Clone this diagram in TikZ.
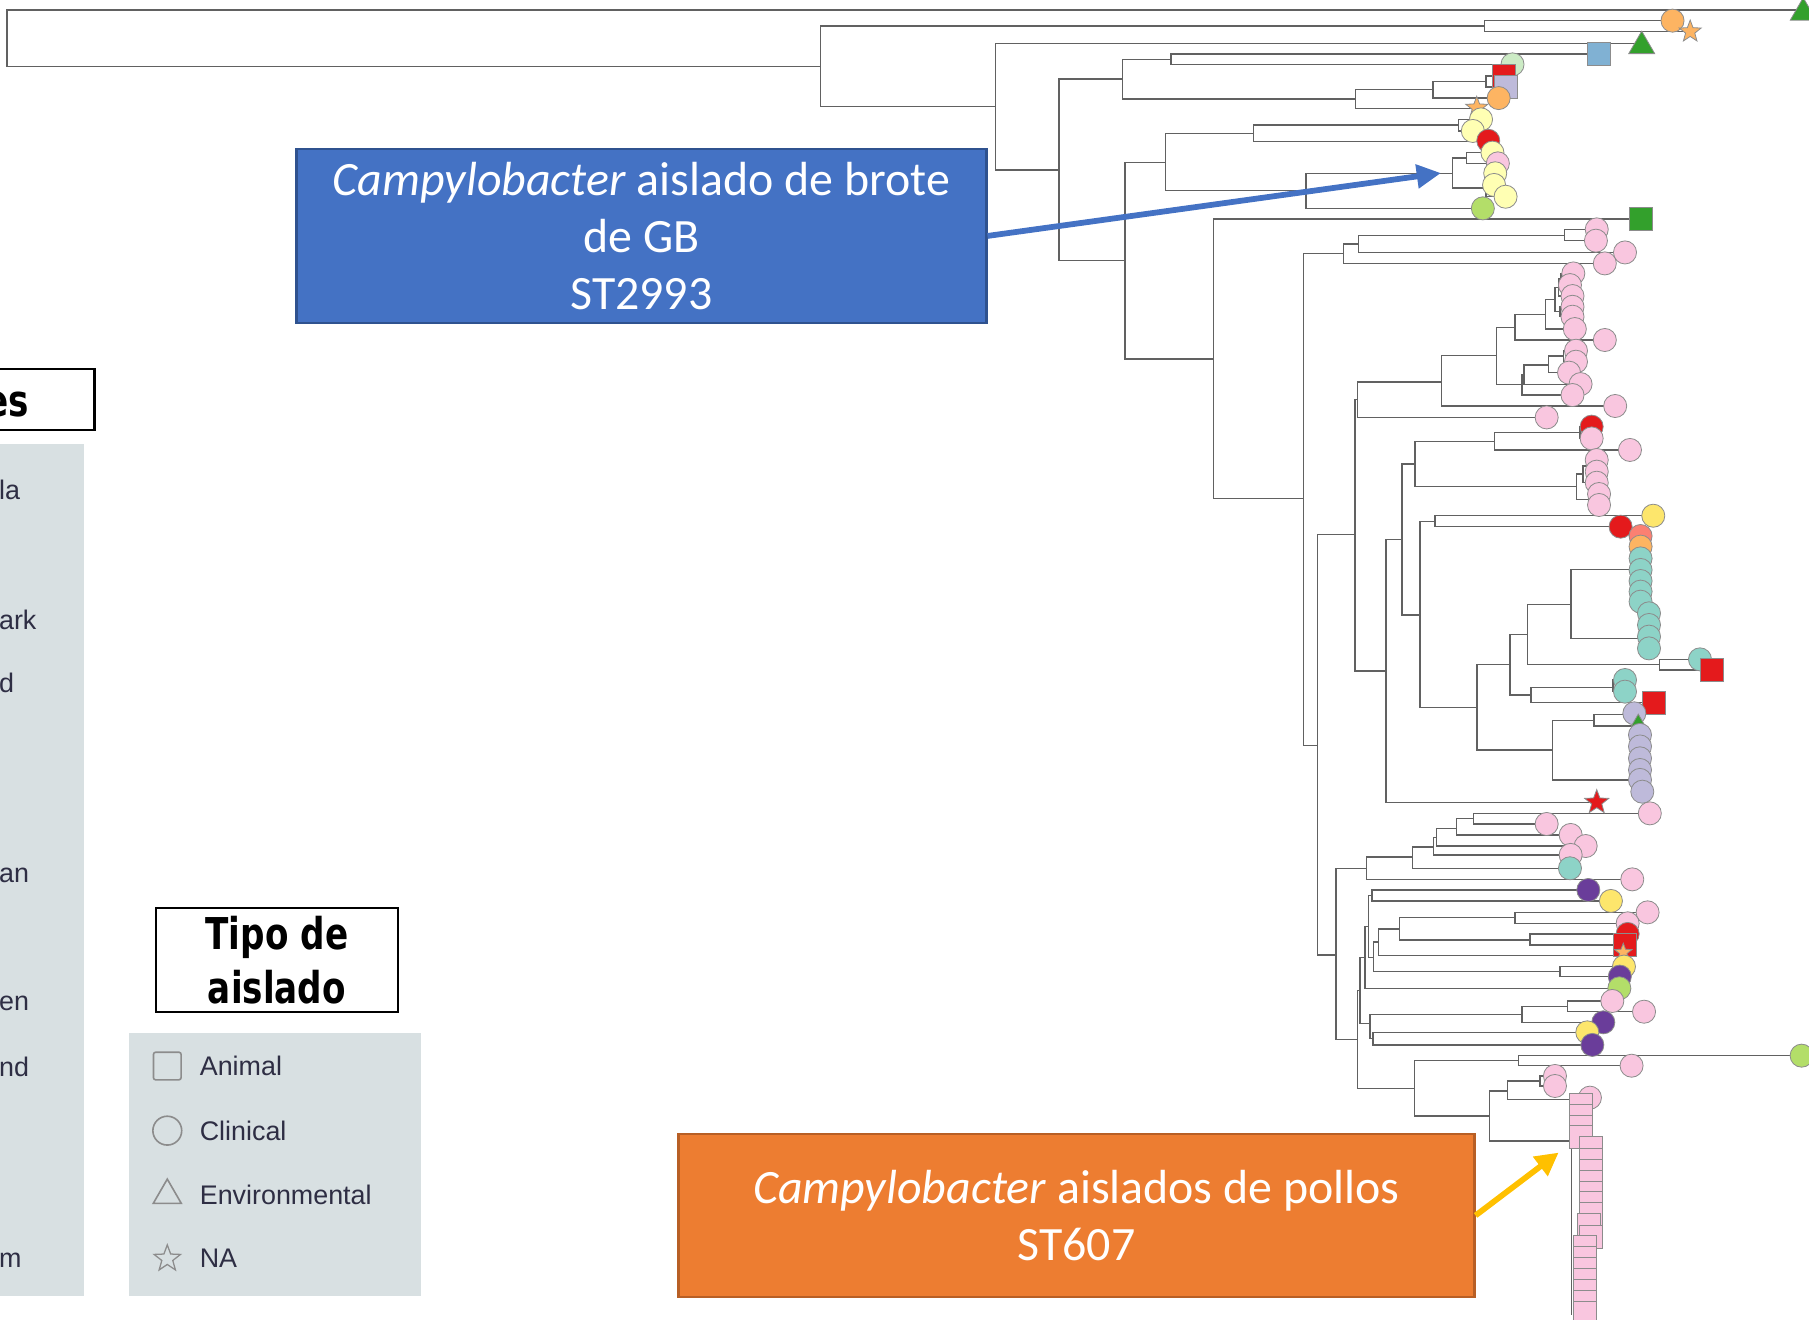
\documentclass[tikz,border=0pt]{standalone}
\usepackage{fontspec}
\setmainfont{Carlito}
\newfontfamily\legfont{Liberation Sans}
\newfontfamily\titfont{DejaVu Sans}[FakeStretch=0.78]
\usetikzlibrary{arrows.meta}
\definecolor{pinkc}{HTML}{F9C6DF}
\definecolor{lyel}{HTML}{FFFFB3}
\definecolor{yel}{HTML}{FDE66C}
\definecolor{redc}{HTML}{E41A1C}
\definecolor{oran}{HTML}{FDB462}
\definecolor{salm}{HTML}{FB8072}
\definecolor{teal}{HTML}{8DD3C7}
\definecolor{lav}{HTML}{BEBADA}
\definecolor{purp}{HTML}{6A3D9A}
\definecolor{lgrn}{HTML}{CCEBC5}
\definecolor{ygrn}{HTML}{B3DE69}
\definecolor{grn}{HTML}{33A02C}
\definecolor{blu}{HTML}{80B1D3}
\definecolor{boxblue}{HTML}{4472C4}
\definecolor{boxblueb}{HTML}{2F528F}
\definecolor{boxor}{HTML}{ED7D31}
\definecolor{boxorb}{HTML}{B85F25}
\definecolor{arrY}{HTML}{FFC000}
\definecolor{legbg}{RGB}{216,224,226}
\definecolor{legtx}{HTML}{2E2E44}
\definecolor{legsy}{HTML}{8C8C8C}
\tikzset{
  tl/.style={draw=black!62,line width=1.3pt},
  mk/.style={draw=black!45,line width=0.7pt},
  callout/.style={text=white,align=center,inner sep=0pt,font=\fontsize{41.5}{49.5}\selectfont},
  legtext/.style={anchor=west,inner sep=0pt,text=legtx,font=\legfont\fontsize{23.3}{27}\selectfont},
  legsym/.style={draw=legsy,line width=1.4pt},
}
\newcommand\clade[5]{\draw[tl] (#3,#2) -- (#1,#2) -- (#1,#4) -- (#5,#4);}
\newcommand\mci[3]{\filldraw[mk,fill=#3] (#1,#2) circle[radius=10pt];}
\newcommand\msq[3]{\filldraw[mk,fill=#3] (#1-10,#2-10) rectangle (#1+10,#2+10);}
\newcommand\mtri[4]{\filldraw[mk,fill=#3] (#1,#2) +(270:#4) -- +(30:#4) -- +(150:#4) -- cycle;}
\newcommand\mstar[4]{\filldraw[mk,fill=#3] (#1,#2) +(270:#4) -- +(306:0.42*#4) -- +(342:#4) -- +(18:0.42*#4) -- +(54:#4) -- +(90:0.42*#4) -- +(126:#4) -- +(162:0.42*#4) -- +(198:#4) -- +(234:0.42*#4) -- cycle;}
\begin{document}
\begin{tikzpicture}[x=1pt,y=-1pt]
\useasboundingbox (0,0) rectangle (1568,1144);
\clip (0,0) rectangle (1568,1144);
% ---------------- tree ----------------
\clade{6}{8.7}{1560}{57.6}{711}
\clade{711}{22.7}{1286.5}{92.4}{863}
\clade{1286.5}{17.9}{1449.7}{27.4}{1465}
\clade{863}{37.6}{1423}{147.3}{918}
\clade{918}{68.6}{973}{225.8}{975}
\clade{973}{51.6}{1015}{85.7}{1175}
\clade{1015}{47}{1386}{56}{1311}
\clade{1175}{77.4}{1242}{93.9}{1280}
\clade{1242}{70.5}{1288}{85}{1299}
\clade{1288}{65.9}{1303.5}{75.3}{1305.5}
\clade{975}{140.7}{1010}{311}{1052}
\clade{1010}{115.5}{1086.6}{165.3}{1132}
\clade{1086.6}{108.5}{1264}{122.5}{1290}
\clade{1264}{103.5}{1283.7}{113.5}{1276.6}
\clade{1132}{150.5}{1259}{180.6}{1285.3}
\clade{1259}{137}{1271}{162.8}{1288}
\clade{1271}{132.3}{1293.6}{141.6}{1298.3}
\clade{1288}{155.2}{1290}{170.5}{1305}
\clade{1290}{150.2}{1296}{160.3}{1295}
\clade{1052}{189.8}{1422}{432.1}{1129.7}
\clade{1129.7}{219.7}{1164.3}{646}{1142}
\clade{1164.3}{211.3}{1177.4}{228.3}{1391}
\clade{1177.4}{204}{1356}{218.8}{1408.5}
\clade{1356}{198.8}{1384}{208.6}{1383.3}
\clade{1142}{463.2}{1174.5}{827.7}{1158}
\clade{1174.5}{346.4}{1176.5}{581.6}{1201.3}
\clade{1176.5}{330.9}{1249.6}{361.8}{1340.6}
\clade{1249.6}{308.3}{1297.3}{351.9}{1400}
\clade{1297.3}{283.8}{1313.2}{333.2}{1319}
\clade{1313.2}{272.5}{1339.7}{294.7}{1391}
\clade{1339.7}{259.5}{1347.8}{285.2}{1365}
\clade{1347.8}{249.3}{1350.7}{270.2}{1352}
\clade{1350.7}{242}{1353}{256.6}{1363}
\clade{1353}{237}{1363.7}{247.1}{1360.8}
\clade{1352}{265.9}{1363}{274.5}{1363}
\clade{1319}{325}{1321}{342.4}{1363}
\clade{1321}{316.4}{1342}{333.2}{1370}
\clade{1342}{308.75}{1355}{323}{1360}
\clade{1355}{304}{1366}{313.5}{1366}
\clade{1201.3}{467.5}{1215}{695.4}{1384}
\clade{1215}{402.3}{1226.5}{533}{1230.8}
\clade{1226.5}{382.8}{1295.2}{421.8}{1366.6}
\clade{1295.2}{375}{1369.5}{390}{1412.8}
\clade{1369.5}{369.8}{1379.6}{380}{1379.6}
\clade{1366.6}{411}{1372}{433}{1377}
\clade{1372}{403.7}{1376}{418.4}{1384}
\clade{1376}{398.7}{1384}{408.8}{1384}
\clade{1377}{428.2}{1386}{437.7}{1386}
\clade{1230.8}{451.8}{1243.8}{613.4}{1280}
\clade{1243.8}{447}{1433}{456.5}{1404.7}
\clade{1280}{575.8}{1308.8}{650}{1345.8}
\clade{1308.8}{549.8}{1324.1}{602.5}{1327}
\clade{1324.1}{523.8}{1361.7}{575.8}{1438.6}
\clade{1361.7}{493.5}{1422}{553.3}{1429.3}
\clade{1438.6}{571.5}{1473.5}{580.7}{1484}
\clade{1327}{596}{1398}{609}{1433.6}
\clade{1398}{589.4}{1408.5}{599.5}{1408.5}
\clade{1345.8}{624.5}{1381.6}{676}{1421.5}
\clade{1381.6}{619.5}{1416.6}{629.3}{1420}
\clade{1158}{752.6}{1184.6}{901}{1176.5}
\clade{1184.6}{743}{1224.4}{762.2}{1414.8}
\clade{1224.4}{734}{1242.4}{752.6}{1360.8}
\clade{1242.4}{726}{1245.3}{741}{1361.4}
\clade{1245.3}{718}{1262.6}{733.3}{1374.4}
\clade{1262.6}{709.6}{1277}{723.7}{1361.4}
\clade{1277}{705}{1430}{714.2}{1340.6}
\clade{1176.5}{858.5}{1179}{943.3}{1225.9}
\clade{1179}{830}{1183}{887}{1187.5}
\clade{1183}{803}{1186}{856.6}{1403.6}
\clade{1186}{776}{1189}{830}{1190.4}
\clade{1189}{771.4}{1376.7}{780.9}{1396.3}
\clade{1190.4}{816.7}{1194.7}{842.2}{1352}
\clade{1194.7}{805.2}{1213}{828.3}{1400}
\clade{1213}{795.4}{1313.1}{814.7}{1326.1}
\clade{1313.1}{790.8}{1428.1}{800.3}{1410.8}
\clade{1326.1}{809.5}{1410.8}{819}{1408.5}
\clade{1352}{837.8}{1407.6}{846.5}{1404}
\clade{1187.5}{879.3}{1319}{900.2}{1190}
\clade{1319}{872.2}{1358.8}{886.1}{1389.7}
\clade{1358.8}{867.6}{1397.5}{876.9}{1425}
\clade{1190}{894.8}{1375.8}{905.7}{1380.2}
\clade{1225.9}{919.3}{1316}{967.3}{1290.9}
\clade{1316}{915}{1555}{923.7}{1414.2}
\clade{1290.9}{945.5}{1306.5}{989}{1362}
\clade{1306.5}{937}{1335}{952.9}{1378.1}
\clade{1335}{932.6}{1347.8}{941.3}{1347.8}
\draw[tl] (1362,958) -- (1362,1140);
% ---------------- tip markers ----------------
\mtri{1563}{11}{grn}{13}
\mci{1449.7}{17.9}{oran}
\mstar{1465}{27.4}{oran}{10}
\mtri{1423}{40}{grn}{13}
\msq{1386}{47}{blu}
\mci{1311}{55.8}{lgrn}
\msq{1303.5}{65.7}{redc}
\msq{1305.5}{75.5}{lav}
\mci{1299}{85}{oran}
\mstar{1280}{93.5}{oran}{10}
\mci{1283.7}{103.5}{lyel}
\mci{1276.6}{113.5}{lyel}
\mci{1290}{122}{redc}
\mci{1293.6}{132.3}{lyel}
\mci{1298.3}{141.6}{pinkc}
\mci{1296}{150.2}{lyel}
\mci{1295}{160.3}{lyel}
\mci{1305}{170.5}{lyel}
\mci{1285.3}{180.6}{ygrn}
\msq{1422}{189.9}{grn}
\mci{1384}{198.8}{pinkc}
\mci{1383.3}{208.6}{pinkc}
\mci{1408.5}{218.8}{pinkc}
\mci{1391}{228.3}{pinkc}
\foreach \x/\y in {1363.7/237,1360.8/247.1,1363/256.6,1363/265.9,1363/274.5,1365/285.2,1391/294.7,1366/304,1366/313.5,1360/323,1370/332.9,1363/342.4,1400/351.9,1340.6/361.8}{\mci{\x}{\y}{pinkc}}
\mci{1379.6}{369.8}{redc}
\foreach \x/\y in {1379.6/380,1412.8/390,1384/398.7,1384/408.8,1384/418.4,1386/428.2,1386/437.7}{\mci{\x}{\y}{pinkc}}
\mci{1433}{447}{yel}
\mci{1404.7}{456.5}{redc}
\mci{1422}{464.6}{salm}
\mci{1422}{473.8}{oran}
\foreach \x/\y in {1422/484,1422/494,1422/503.6,1422/512.8,1422/521.5,1429.3/531.6,1429.3/541.7,1429.3/551.8,1429.3/562}{\mci{\x}{\y}{teal}}
\mci{1473.5}{571.5}{teal}
\msq{1484}{580.7}{redc}
\mci{1408.5}{589.4}{teal}
\mci{1408.5}{599.5}{teal}
\msq{1433.6}{609}{redc}
\mci{1416.6}{618.3}{lav}
\mtri{1420}{626}{grn}{7}
\foreach \y in {637,647,657.3,667.4,676}{\mci{1421.5}{\y}{lav}}
\mci{1423.5}{686.2}{lav}
\mstar{1384}{695.4}{redc}{11}
\mci{1430}{705}{pinkc}
\mci{1340.6}{714.2}{pinkc}
\mci{1361.4}{723.7}{pinkc}
\mci{1374.4}{733.3}{pinkc}
\mci{1361.4}{741}{pinkc}
\mci{1360.8}{752.6}{teal}
\mci{1414.8}{762.2}{pinkc}
\mci{1376.7}{771.4}{purp}
\mci{1396.3}{780.9}{yel}
\mci{1428.1}{790.8}{pinkc}
\mci{1410.8}{800.3}{pinkc}
\mci{1410.8}{809.5}{redc}
\msq{1408.5}{819}{redc}
\mstar{1407}{825.5}{oran}{8}
\mci{1407.6}{837.8}{yel}
\mci{1404}{846.5}{purp}
\mci{1403.6}{856.6}{ygrn}
\mci{1397.5}{867.6}{pinkc}
\mci{1425}{876.9}{pinkc}
\mci{1389.7}{886.1}{purp}
\mci{1375.8}{894.8}{yel}
\mci{1380.2}{905.7}{purp}
\mci{1561.6}{915}{ygrn}
\mci{1414.2}{923.7}{pinkc}
\mci{1347.8}{932.6}{pinkc}
\mci{1347.8}{941.3}{pinkc}
\mci{1378.1}{951.4}{pinkc}
\foreach \x/\y in {1370.3/957.8,1370.3/967,1370.3/976.5,1370.3/985.8,1379/995.3,1379/1005.4,1379/1014.7,1379/1024.2,1379/1033.8,1379/1043,1379/1052.5,1377/1061.8,1379/1071.9,1374/1081.1,1374/1090.7,1374/1100.2,1374/1109.5,1374/1118.7,1374/1128.2,1374/1138.3}{\msq{\x}{\y}{pinkc}}
% ---------------- callouts ----------------
\node[callout,fill=boxblue,draw=boxblueb,line width=2pt,minimum width=598pt,minimum height=151pt] (gbbox) at (556,204.5)
  {\textit{Campylobacter} aislado de brote\\de GB\\ST2993};
\coordinate (gbtip) at (1249,150);
\draw[boxblue,line width=5pt,-{Triangle[length=21pt,width=20pt]}] (gbbox.east) -- (gbtip);
\node[callout,fill=boxor,draw=boxorb,line width=2pt,minimum width=690pt,minimum height=141pt] (pbox) at (933,1053.5)
  {\textit{Campylobacter} aislados de pollos\\ST607};
\coordinate (ptip) at (1351,999);
\draw[arrY,line width=5pt,-{Triangle[length=20pt,width=20pt]}] (pbox.east) -- (ptip);
% ---------------- legends ----------------
\node[draw=black,line width=2pt,minimum width=95pt,minimum height=53pt,inner sep=0pt] (ctitle) at (34.5,346.5) {};
\node[anchor=base east,inner sep=0pt,font=\titfont\bfseries\fontsize{38}{47}\selectfont] (ctitletext) at (25.5,361) {es};
\fill[legbg] (0,385) rectangle (73,1123);
\node[legtext] (c1) at (-1,425) {la};
\node[legtext] (c2) at (-1,537) {ark};
\node[legtext] (c3) at (-1,592) {d};
\node[legtext] (c4) at (-1,759) {an};
\node[legtext] (c5) at (-1,870) {en};
\node[legtext] (c6) at (-1,925) {nd};
\node[legtext] (c7) at (-1,1092) {m};
\node[draw=black,line width=2pt,minimum width=210pt,minimum height=90pt,inner sep=0pt,align=center,font=\titfont\bfseries\fontsize{38}{47}\selectfont] (ttitle) at (240,832) {Tipo de\\aislado};
\fill[legbg] (112,895) rectangle (365,1123);
\draw[legsym,rounded corners=2pt] (133,912) rectangle (157,936);
\draw[legsym] (145,980) circle[radius=12.5pt];
\draw[legsym] (145,1036) +(270:14) -- +(30:14) -- +(150:14) -- cycle;
\draw[legsym,line width=1.1pt] (145,1091) +(270:12) -- +(306:5) -- +(342:12) -- +(18:5) -- +(54:12) -- +(90:5) -- +(126:12) -- +(162:5) -- +(198:12) -- +(234:5) -- cycle;
\node[legtext] (l1) at (173,924) {Animal};
\node[legtext] (l2) at (173,980) {Clinical};
\node[legtext] (l3) at (173,1036) {Environmental};
\node[legtext] (l4) at (173,1091) {NA};
\end{tikzpicture}
\end{document}
